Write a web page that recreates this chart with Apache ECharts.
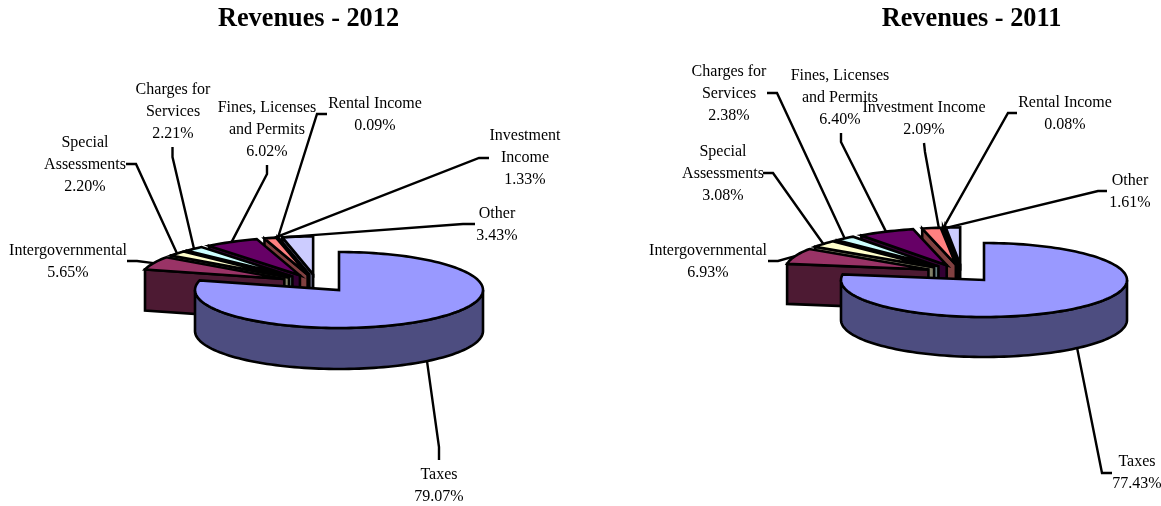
<!DOCTYPE html>
<html>
<head>
<meta charset="utf-8">
<style>html,body{margin:0;padding:0;background:#fff}#main{width:1161px;height:506px}</style>
<script src="https://cdn.jsdelivr.net/npm/echarts@6/dist/echarts.min.js"></script>
</head>
<body>
<div id="main"></div>
<script>
// slices run clockwise from 12 o'clock, Taxes is the one left in place
var categories = ['Taxes', 'Intergovernmental', 'Special Assessments', 'Charges for Services',
  'Fines, Licenses and Permits', 'Investment Income', 'Rental Income', 'Other'];
var values2012 = [79.07, 5.65, 2.20, 2.21, 6.02, 1.33, 0.09, 3.43];
var values2011 = [77.43, 6.93, 3.08, 2.38, 6.40, 2.09, 0.08, 1.61];
var titles = ['Revenues - 2012', 'Revenues - 2011'];

var topColors = ['#9999ff', '#993366', '#ffffcc', '#ccffff', '#660066', '#ff8080', '#0066cc', '#ccccff'];
var wallColors = ['#4d4d80', '#4d1a33', '#808066', '#668080', '#330033', '#804040', '#003366', '#666680'];

// label wrapping differs between the two pies
var lines2012 = [['Taxes'], ['Intergovernmental'], ['Special', 'Assessments'], ['Charges for', 'Services'],
  ['Fines, Licenses', 'and Permits'], ['Investment', 'Income'], ['Rental Income'], ['Other']];
var lines2011 = [['Taxes'], ['Intergovernmental'], ['Special', 'Assessments'], ['Charges for', 'Services'],
  ['Fines, Licenses', 'and Permits'], ['Investment Income'], ['Rental Income'], ['Other']];

// centre of the label block
var labelPos2012 = [[439, 486], [68, 262], [85, 165], [173, 112], [267, 130], [525, 158], [375, 115], [497, 225]];
var labelPos2011 = [[1137, 473], [708, 262], [723, 174], [729, 94], [840, 98], [924, 119], [1065, 114], [1130, 192]];

// leader line bends, the last point comes from the slice itself
var leaders2012 = [[[439, 460], [439, 447]], [[127, 261], [137, 261]], [[126, 164], [136, 164]], [[172.5, 147], [172.5, 157]],
  [[267, 165], [267, 174]], [[489, 158], [479, 158]], [[327, 114], [317, 114]], [[475, 224], [463, 224]]];
var leaders2011 = [[[1112, 473], [1102, 473]], [[768, 261], [778, 261]], [[763, 173], [773, 173]], [[767, 93], [777, 93]],
  [[841, 133], [841, 142]], [[924, 143], [925, 152]], [[1017, 113], [1008, 113]], [[1107, 191], [1098, 191]]];
// where on the slice's arc the leader lands, 0..1
var anchors = [0.5, 0.5, 0.5, 0.5, 0.5, 0.9, 0.5, 0.1];

var pies = [
  { values: values2012, lines: lines2012, labelPos: labelPos2012, leaders: leaders2012, cx: 339, cy: 290, rx: 144, ry: 38, depth: 41 },
  { values: values2011, lines: lines2011, labelPos: labelPos2011, leaders: leaders2011, cx: 984, cy: 280, rx: 143, ry: 37, depth: 40 }
];

var FONT = '16px "Liberation Serif", "Times New Roman", serif';

function arcPts(cx, cy, rx, ry, a0, a1, dy) {
  var pts = [];
  var n = Math.max(2, Math.ceil(Math.abs(a1 - a0) / 2));
  for (var i = 0; i <= n; i++) {
    var a = (a0 + (a1 - a0) * i / n) * Math.PI / 180;
    pts.push([cx + rx * Math.sin(a), cy - ry * Math.cos(a) + (dy || 0)]);
  }
  return pts;
}

function makeRender(pie) {
  return function (params, api) {
    var i = params.dataIndex;
    var val = api.value(0);
    var before = 0;
    for (var k = 0; k < i; k++) before += pie.values[k];
    var total = pie.values.reduce(function (a, b) { return a + b; }, 0);
    var a0 = before / total * 360;
    var a1 = (before + val) / total * 360;
    var mid = (a0 + a1) / 2 * Math.PI / 180;
    var sx = pie.cx, sy = pie.cy;
    if (i > 0) {
      // exploded group sits back and left of the big slice
      sx = pie.cx - 22 + 36 * Math.sin(mid);
      sy = pie.cy - 7.6 - 8 * Math.cos(mid);
    }
    var kids = [];
    var z = i === 0 ? 50 : 10 - i;
    var edge = { stroke: '#000', lineWidth: 2.6, lineJoin: 'miter' };

    if (i === 0) {
      var topArc = arcPts(sx, sy, pie.rx, pie.ry, 90, 270);
      var lowArc = arcPts(sx, sy, pie.rx, pie.ry, 90, 270, pie.depth).reverse();
      kids.push({ type: 'polygon', z2: z, shape: { points: topArc.concat(lowArc) },
        style: Object.assign({ fill: wallColors[i] }, edge) });
    } else {
      var p0 = arcPts(sx, sy, pie.rx, pie.ry, a0, a0)[0];
      kids.push({ type: 'polygon', z2: z, shape: { points: [p0, [sx, sy], [sx, sy + pie.depth], [p0[0], p0[1] + pie.depth]] },
        style: Object.assign({ fill: wallColors[i] }, edge) });
    }
    kids.push({ type: 'polygon', z2: z + 1, shape: { points: [[sx, sy]].concat(arcPts(sx, sy, pie.rx, pie.ry, a0, a1)) },
      style: Object.assign({ fill: topColors[i] }, edge) });

    // leader line
    var at = a0 + (a1 - a0) * anchors[i];
    var end = arcPts(sx, sy, pie.rx, pie.ry, at, at, i === 0 ? pie.depth : 0)[0];
    kids.push({ type: 'polyline', z2: 60, shape: { points: pie.leaders[i].concat([end]) },
      style: { stroke: '#000', lineWidth: 2.4, fill: null } });

    // label text
    kids.push({ type: 'text', z2: 70,
      style: { text: pie.lines[i].concat([val.toFixed(2) + '%']).join('\n'),
        x: pie.labelPos[i][0], y: pie.labelPos[i][1], align: 'center', verticalAlign: 'middle',
        font: FONT, lineHeight: 22, fill: '#000' } });
    return { type: 'group', children: kids };
  };
}

var chart = echarts.init(document.getElementById('main'), null, { renderer: 'canvas' });
chart.setOption({
  animation: false,
  backgroundColor: '#fff',
  title: [
    { text: titles[0], left: 303.5, top: 1, textAlign: 'center',
      textStyle: { fontFamily: '"Liberation Serif", serif', fontWeight: 'bold', fontSize: 26.3, color: '#000' } },
    { text: titles[1], left: 966.5, top: 1, textAlign: 'center',
      textStyle: { fontFamily: '"Liberation Serif", serif', fontWeight: 'bold', fontSize: 26.3, color: '#000' } }
  ],
  series: pies.map(function (pie, n) {
    return {
      type: 'custom',
      name: titles[n],
      coordinateSystem: 'none',
      silent: true,
      clip: false,
      renderItem: makeRender(pie),
      data: pie.values.map(function (v, i) { return { name: categories[i], value: [v] }; })
    };
  })
});
</script>
</body>
</html>
